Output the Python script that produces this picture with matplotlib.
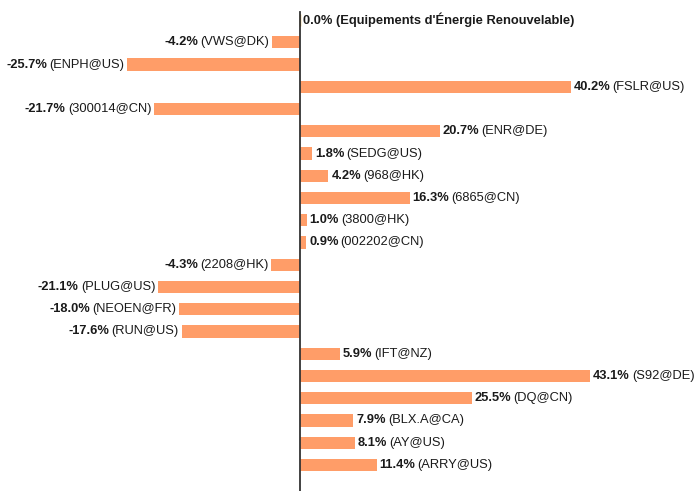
import matplotlib
matplotlib.use("Agg")
import matplotlib.pyplot as plt

# --------------------------------------------------------------------------- #
# data
# --------------------------------------------------------------------------- #
tickers = ["Equipements d'Énergie Renouvelable", "VWS@DK", "ENPH@US", "FSLR@US",
           "300014@CN", "ENR@DE", "SEDG@US", "968@HK", "6865@CN", "3800@HK",
           "002202@CN", "2208@HK", "PLUG@US", "NEOEN@FR", "RUN@US", "IFT@NZ",
           "S92@DE", "DQ@CN", "BLX.A@CA", "AY@US", "ARRY@US"]
values = [0.0, -4.2, -25.7, 40.2, -21.7, 20.7, 1.8, 4.2, 16.3, 1.0, 0.9,
          -4.3, -21.1, -18.0, -17.6, 5.9, 43.1, 25.5, 7.9, 8.1, 11.4]

BAR_COLOR = "#FF9D68"
BENCH_COLOR = "#E0A030"
TXT = "#1a1a1a"
FS = 9.25

plt.rcParams["font.family"] = ["Liberation Sans", "DejaVu Sans"]

fig = plt.figure(figsize=(6.94, 4.91), dpi=100)
ax = fig.add_axes([0, 0, 1, 1])

ys = list(range(len(values)))
colors = [BENCH_COLOR if i == 0 else BAR_COLOR for i in ys]
ax.barh(ys, values, height=0.55, color=colors, edgecolor=colors,
        linewidth=[1.0 if i == 0 else 0 for i in ys])

ax.set_xlim(-44.6, 58.5)
ax.set_ylim(21.17, -0.9)
ax.axis("off")
ax.plot([0, 0], [-0.36, 21.17], color="#333333", lw=1.3, zorder=3)

for i, (v, t) in enumerate(zip(values, tickers)):
    val = f"{v:.1f}%"
    if i == 0:
        ax.annotate(f"{val} ({t})", xy=(0, i), xytext=(2, 0),
                    textcoords="offset points", va="center", ha="left",
                    fontsize=FS, fontweight="bold", color=TXT)
        continue
    if v >= 0:
        t1 = ax.annotate(val, xy=(v, i), xytext=(2, 0),
                         textcoords="offset points", va="center", ha="left",
                         fontsize=FS, fontweight="bold", color=TXT)
        ax.annotate(f"({t})", xy=(1, 0.5), xycoords=t1, xytext=(1.5, 0),
                    textcoords="offset points", va="center", ha="left",
                    fontsize=FS, color=TXT)
    else:
        t1 = ax.annotate(f"({t})", xy=(v, i), xytext=(-2, 0),
                         textcoords="offset points", va="center", ha="right",
                         fontsize=FS, color=TXT)
        ax.annotate(val, xy=(0, 0.5), xycoords=t1, xytext=(-1.5, 0),
                    textcoords="offset points", va="center", ha="right",
                    fontsize=FS, fontweight="bold", color=TXT)

fig.savefig("out.png", dpi=100)
